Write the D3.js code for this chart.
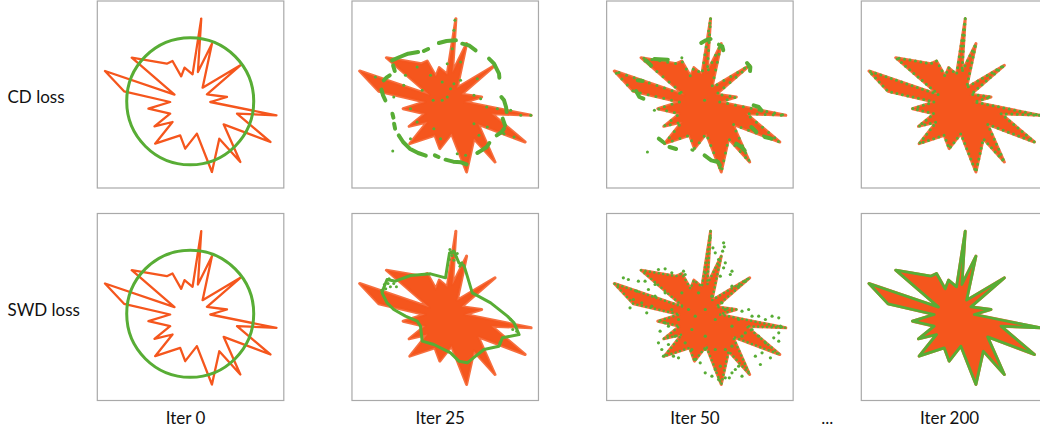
<!DOCTYPE html>
<html>
<head>
<meta charset="utf-8">
<script src="https://cdn.jsdelivr.net/npm/d3@7"></script>
<style>
  html, body { margin: 0; padding: 0; background: #fff; }
  svg { display: block; }
  text { font-family: Lato, "Open Sans", sans-serif; fill: #111; }
</style>
</head>
<body>
<svg id="chart" width="1040" height="429"></svg>
<script>
// Row and column titles
const rowLabels = ["CD loss", "SWD loss"];
const iterLabels = ["Iter 0", "Iter 25", "Iter 50", "Iter 200"];

// Target point cloud: star outline vertices (plot units, y down)
const star = [
  [318,55],[308,215],[350,130],[322,262],[435,195],[335,282],[395,290],[345,305],
  [543,345],[425,340],[525,425],[385,372],[435,485],[372,415],[350,515],[305,400],
  [270,445],[255,405],[180,430],[232,365],[178,378],[225,340],[160,325],[225,305],
  [87,273],[30,212],[238,283],[110,172],[215,190],[232,182],[258,228],[268,202],[292,222]
];

// Initial prediction: a circle [cx, cy, r]
const initCircle = [285, 303, 190];

// CD loss, iteration 25: clustered arcs and stray points
const cd25Arcs = [
  [[267,128],[290,122],[318,120]],
  [[337,130],[357,135],[377,150]],
  [[417,175],[432,190],[447,220],[448,232]],
  [[454,290],[462,300],[468,320],[470,335]],
  [[458,355],[465,375]],
  [[440,405],[455,395],[462,385]],
  [[382,458],[395,450],[410,440],[418,428]],
  [[287,478],[310,484],[333,486],[350,492]],
  [[255,465],[266,470]],
  [[147,405],[160,425],[180,445],[205,458],[228,466]],
  [[128,340],[131,352]],
  [[133,370],[136,385]],
  [[95,268],[100,285],[107,300]],
  [[102,240],[110,232],[120,225]],
  [[127,180],[150,170],[175,160],[205,155]],
  [[130,195],[135,212]],
  [[222,152],[235,146]]
];
const cd25Dots = [
  [129,452],[312,90],[307,145],[292,190],[277,245],[312,250],[302,265],[277,300],
  [292,290],[242,225],[202,200],[167,225],[77,230],[132,290],[217,270],[162,255],
  [182,325],[202,365],[182,415],[252,385],[272,415],[322,460],[347,465],[372,370],
  [412,380],[387,405],[442,325],[482,330],[512,345],[542,345],[492,410],[462,400],
  [392,295],[372,285],[332,240],[332,185],[382,235],[315,60],[410,320],[250,300]
];

// CD loss, iteration 50: points gathered near spike tips
const cd50Arcs = [
  [[290,128],[303,120],[318,116]],
  [[343,133],[353,138],[356,150]],
  [[427,188],[437,200],[436,212]],
  [[447,315],[462,320],[470,330]],
  [[100,240],[115,242]],
  [[95,272],[105,290],[117,295]],
  [[125,180],[140,195]],
  [[150,176],[190,178]],
  [[163,415],[176,425]],
  [[195,440],[215,446]],
  [[300,465],[320,480],[340,485],[346,495]],
  [[395,430],[410,440],[420,450]],
  [[440,380],[455,395]],
  [[480,410],[500,415]]
];
const cd50Dots = [[129,455],[265,450],[262,448],[232,172],[150,330],[300,300]];

// SWD loss, iteration 25: a closed contour around the bulk
const swd25Loop = [
  [97,240],[102,225],[112,200],[137,205],[182,188],[242,183],[287,195],[294,150],
  [299,120],[312,115],[327,150],[342,158],[352,190],[367,240],[422,270],[472,310],
  [492,330],[507,365],[457,375],[447,400],[402,410],[377,430],[352,450],[327,445],
  [302,420],[252,395],[217,385],[212,340],[202,325],[167,310],[132,290],[112,270]
];
const swd25Dots = [
  [300,110],[306,128],[318,132],[322,122],[330,160],[336,150],[298,140],[312,142],
  [104,215],[115,212],[122,222],[132,212],[140,222],[108,228],[96,232],[118,198],
  [482,320],[497,340],[500,355],[488,350],[450,390]
];

// SWD loss, iteration 50: widely scattered points
const swd50Dots = [
  [357,90],[359,102],[354,115],[362,150],[357,165],[382,175],[377,185],[325,105],
  [332,120],[342,140],[302,180],[317,75],[347,190],
  [57,195],[72,200],[77,285],[97,235],[102,205],[122,205],[132,230],[127,300],
  [162,170],[182,168],[202,180],[237,175],[242,185],[87,260],[112,270],[152,215],
  [462,310],[482,320],[502,310],[522,315],[527,340],[522,360],[507,375],[522,385],
  [482,390],[472,420],[452,430],[467,455],[497,435],[442,310],[412,295],[402,220],[422,205],
  [302,480],[322,490],[342,500],[362,495],[374,495],[382,480],[392,470],[402,460],
  [412,490],[347,460],[332,470],
  [162,390],[172,410],[177,430],[192,395],[207,430],[222,435],[262,410],[272,440],
  [287,450],[167,355],[182,330],
  [252,290],[282,240],[202,290],[222,320],[262,350],[302,370],[332,320],[382,340],
  [402,320],[422,360],[442,350],[352,270],[322,250],[232,240],[182,240],[152,250],
  [142,280],[192,340],[212,370],[242,390],[302,410],[332,410],[362,410],[382,400],
  [412,370],[462,370],[432,290],[382,220],[362,290],[272,310],[302,290]
];

const RED = "#f5561d";
const GREEN = "#58ad35";

const svg = d3.select("#chart");

// Panel grid placement
const colX = d3.scaleLinear().domain([0, 3]).range([97.3, 861.3]);
const rowY = d3.scaleLinear().domain([0, 1]).range([1, 213.5]);
const panelW = 186.5, panelH = 187;

function panel(row, col, draw) {
  const x0 = colX(col), y0 = rowY(row);
  const x = d3.scaleLinear().domain([7, 565]).range([x0, x0 + panelW]);
  const y = d3.scaleLinear().domain([2, 563]).range([y0, y0 + panelH]);
  const id = `clip-${row}-${col}`;
  svg.append("clipPath").attr("id", id)
    .append("rect").attr("x", x0).attr("y", y0).attr("width", panelW).attr("height", panelH);
  const g = svg.append("g").attr("clip-path", `url(#${id})`);
  draw(g, x, y);
  svg.append("rect")
    .attr("x", x0).attr("y", y0).attr("width", panelW).attr("height", panelH)
    .attr("fill", "none").attr("stroke", "#a9a9a9").attr("stroke-width", 1.2);
}

function closedLine(x, y) {
  return d3.line().x(d => x(d[0])).y(d => y(d[1])).curve(d3.curveLinearClosed);
}
function openLine(x, y) {
  return d3.line().x(d => x(d[0])).y(d => y(d[1]));
}

function starOutline(g, x, y) {
  g.append("path").attr("d", closedLine(x, y)(star))
    .attr("fill", "none").attr("stroke", RED).attr("stroke-width", 2.3)
    .attr("stroke-linejoin", "round");
}
function starFilled(g, x, y) {
  g.append("path").attr("d", closedLine(x, y)(star))
    .attr("fill", RED).attr("stroke", RED).attr("stroke-width", 3)
    .attr("stroke-linejoin", "round").attr("stroke-opacity", 0.85);
}
function circle(g, x, y) {
  g.append("circle")
    .attr("cx", x(initCircle[0])).attr("cy", y(initCircle[1]))
    .attr("r", x(initCircle[0] + initCircle[2]) - x(initCircle[0]))
    .attr("fill", "none").attr("stroke", GREEN).attr("stroke-width", 3);
}
function arcs(g, x, y, list, w) {
  g.selectAll(null).data(list).join("path")
    .attr("d", openLine(x, y))
    .attr("fill", "none").attr("stroke", GREEN).attr("stroke-width", w)
    .attr("stroke-linecap", "round").attr("stroke-linejoin", "round");
}
function dots(g, x, y, list, r) {
  g.selectAll(null).data(list).join("circle")
    .attr("cx", d => x(d[0])).attr("cy", d => y(d[1])).attr("r", r)
    .attr("fill", GREEN);
}
function dottedOutline(g, x, y, gap, w) {
  g.append("path").attr("d", closedLine(x, y)(star))
    .attr("fill", "none").attr("stroke", GREEN).attr("stroke-width", w)
    .attr("stroke-linecap", "round").attr("stroke-dasharray", `0 ${gap}`);
}

// CD loss row
panel(0, 0, (g, x, y) => { starOutline(g, x, y); circle(g, x, y); });
panel(0, 1, (g, x, y) => {
  starFilled(g, x, y);
  arcs(g, x, y, cd25Arcs, 4);
  dots(g, x, y, cd25Dots, 1.5);
});
panel(0, 2, (g, x, y) => {
  starFilled(g, x, y);
  dottedOutline(g, x, y, 8, 3);
  arcs(g, x, y, cd50Arcs, 4);
  dots(g, x, y, cd50Dots, 1.5);
});
panel(0, 3, (g, x, y) => {
  starFilled(g, x, y);
  dottedOutline(g, x, y, 5.5, 3);
});

// SWD loss row
panel(1, 0, (g, x, y) => { starOutline(g, x, y); circle(g, x, y); });
panel(1, 1, (g, x, y) => {
  starFilled(g, x, y);
  g.append("path").attr("d", closedLine(x, y)(swd25Loop))
    .attr("fill", "none").attr("stroke", GREEN).attr("stroke-width", 3)
    .attr("stroke-linejoin", "round");
  dots(g, x, y, swd25Dots, 1.5);
});
panel(1, 2, (g, x, y) => {
  starFilled(g, x, y);
  dottedOutline(g, x, y, 4.5, 2.6);
  dots(g, x, y, swd50Dots, 1.6);
});
panel(1, 3, (g, x, y) => {
  starFilled(g, x, y);
  g.append("path").attr("d", closedLine(x, y)(star))
    .attr("fill", "none").attr("stroke", GREEN).attr("stroke-width", 2.8)
    .attr("stroke-linejoin", "round");
});

// Row titles
svg.selectAll(null).data(rowLabels).join("text")
  .attr("x", 7.5)
  .attr("y", (d, i) => rowY(i) + 102)
  .attr("font-size", 17)
  .text(d => d);

// Column titles
svg.selectAll(null).data(iterLabels).join("text")
  .attr("x", (d, i) => colX(i) + panelW / 2 - 5)
  .attr("y", 424)
  .attr("text-anchor", "middle")
  .attr("font-size", 17)
  .text(d => d);

svg.append("text")
  .attr("x", (colX(2) + panelW + colX(3)) / 2)
  .attr("y", 424)
  .attr("text-anchor", "middle")
  .attr("font-size", 17)
  .text("...");
</script>
</body>
</html>
